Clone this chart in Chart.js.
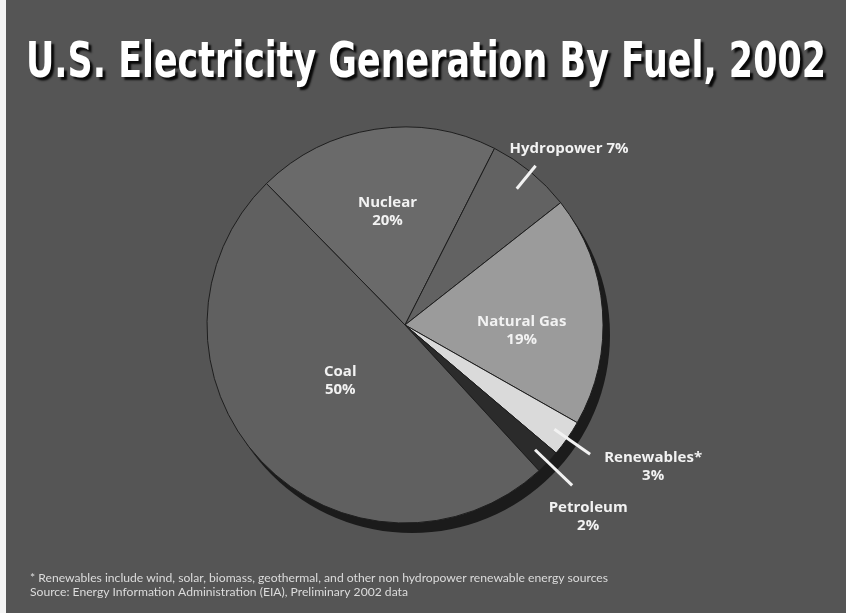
<!DOCTYPE html>
<html lang="en">
<head>
    <meta charset="UTF-8">
    <title>U.S. Electricity Generation By Fuel, 2002</title>
    <script src="https://cdn.jsdelivr.net/npm/chart.js"></script>
    <style>
        html, body { margin: 0; padding: 0; background: #f4f4f4; }
        .frame {
            position: absolute;
            left: 6px; top: 0;
            width: 840px; height: 613px;
            background: #555555;
        }
    </style>
</head>
<body>
    <div class="frame">
        <canvas id="fuelChart" width="840" height="613"></canvas>
    </div>

    <script>
        // Data
        const categories = ['Nuclear', 'Hydropower', 'Natural Gas', 'Renewables*', 'Petroleum', 'Coal'];
        const shares = [20, 7, 19, 3, 2, 50];
        const sliceColors = ['#6a6a6a', '#626262', '#9b9b9b', '#dadada', '#2b2b2b', '#606060'];

        const titleText = 'U.S. Electricity Generation By Fuel, 2002';
        const footnotes = [
            '* Renewables include wind, solar, biomass, geothermal, and other non hydropower renewable energy sources',
            'Source: Energy Information Administration (EIA), Preliminary 2002 data'
        ];

        // where each label sits, relative to its slice (fraction of radius)
        const labelSpots = [
            { r: 0.58 },
            { r1: 0.89, r2: 1.04, dx: -26, dy: -17, align: 'left', oneLine: true },
            { r: 0.59, turn: 7 },
            { r1: 0.92, r2: 1.14, dx: 63, dy: 4, align: 'center' },
            { r1: 0.91, r2: 1.17, dx: 16, dy: 22, align: 'center' },
            { r: 0.43, turn: 3 }
        ];

        const decor = {
            id: 'decor',
            beforeDatasetsDraw(chart) {
                // drop shadow under the pie
                const ctx = chart.ctx;
                const arc = chart.getDatasetMeta(0).data[0];
                ctx.save();
                ctx.fillStyle = '#1b1b1b';
                ctx.beginPath();
                ctx.arc(arc.x + 7, arc.y + 10, arc.outerRadius, 0, Math.PI * 2);
                ctx.fill();
                ctx.restore();
            },
            afterDatasetsDraw(chart) {
                const ctx = chart.ctx;
                const arcs = chart.getDatasetMeta(0).data;
                ctx.save();
                ctx.fillStyle = '#f2f2f2';
                ctx.strokeStyle = '#f2f2f2';
                ctx.font = 'bold 15px "Open Sans"';
                ctx.textBaseline = 'middle';
                arcs.forEach((arc, i) => {
                    const spot = labelSpots[i];
                    const R = arc.outerRadius;
                    const a = (arc.startAngle + arc.endAngle) / 2 + (spot.turn || 0) * Math.PI / 180;
                    const pct = shares[i] + '%';
                    if (spot.r !== undefined) {
                        const x = arc.x + Math.cos(a) * R * spot.r;
                        const y = arc.y + Math.sin(a) * R * spot.r;
                        ctx.textAlign = 'center';
                        ctx.fillText(categories[i], x, y - 9);
                        ctx.fillText(pct, x, y + 9);
                    } else {
                        const x1 = arc.x + Math.cos(a) * R * spot.r1;
                        const y1 = arc.y + Math.sin(a) * R * spot.r1;
                        const x2 = arc.x + Math.cos(a) * R * spot.r2;
                        const y2 = arc.y + Math.sin(a) * R * spot.r2;
                        ctx.lineWidth = 3;
                        ctx.beginPath();
                        ctx.moveTo(x1, y1);
                        ctx.lineTo(x2, y2);
                        ctx.stroke();
                        ctx.textAlign = spot.align;
                        if (spot.oneLine) {
                            ctx.fillText(categories[i] + ' ' + pct, x2 + spot.dx, y2 + spot.dy);
                        } else {
                            ctx.fillText(categories[i], x2 + spot.dx, y2 + spot.dy);
                            ctx.fillText(pct, x2 + spot.dx, y2 + spot.dy + 18);
                        }
                    }
                });
                ctx.restore();
            },
            afterDraw(chart) {
                const ctx = chart.ctx;
                // title, squeezed to the reference width
                ctx.save();
                ctx.font = 'bold 50px "DejaVu Sans Condensed", "DejaVu Sans"';
                const w = ctx.measureText(titleText).width;
                const sx = 800 / w;
                ctx.translate(420, 77);
                ctx.scale(sx, 1);
                ctx.textAlign = 'center';
                ctx.textBaseline = 'alphabetic';
                ctx.shadowColor = 'rgba(0,0,0,0.9)';
                ctx.shadowOffsetX = 3;
                ctx.shadowOffsetY = 3;
                ctx.shadowBlur = 2;
                ctx.fillStyle = '#ffffff';
                ctx.fillText(titleText, 0, 0);
                ctx.restore();

                // footnotes
                ctx.save();
                ctx.font = '12px Lato';
                ctx.fillStyle = '#dcdcdc';
                ctx.textBaseline = 'alphabetic';
                const fw = ctx.measureText(footnotes[0]).width;
                const fs = 578 / fw;
                footnotes.forEach((line, k) => {
                    ctx.save();
                    ctx.translate(24, 582 + k * 14);
                    ctx.scale(fs, 1);
                    ctx.fillText(line, 0, 0);
                    ctx.restore();
                });
                ctx.restore();
            }
        };

        window.onload = function() {
            const ctx = document.getElementById('fuelChart').getContext('2d');
            new Chart(ctx, {
                type: 'pie',
                data: {
                    labels: categories,
                    datasets: [{
                        data: shares,
                        backgroundColor: sliceColors,
                        borderColor: '#1e1e1e',
                        borderWidth: 1
                    }]
                },
                options: {
                    responsive: false,
                    animation: false,
                    rotation: -44.4,
                    radius: 198,
                    layout: {
                        padding: { left: 201, top: 127, right: 243, bottom: 90 }
                    },
                    plugins: {
                        legend: { display: false },
                        tooltip: { enabled: false }
                    }
                },
                plugins: [decor]
            });
        };
    </script>
</body>
</html>
